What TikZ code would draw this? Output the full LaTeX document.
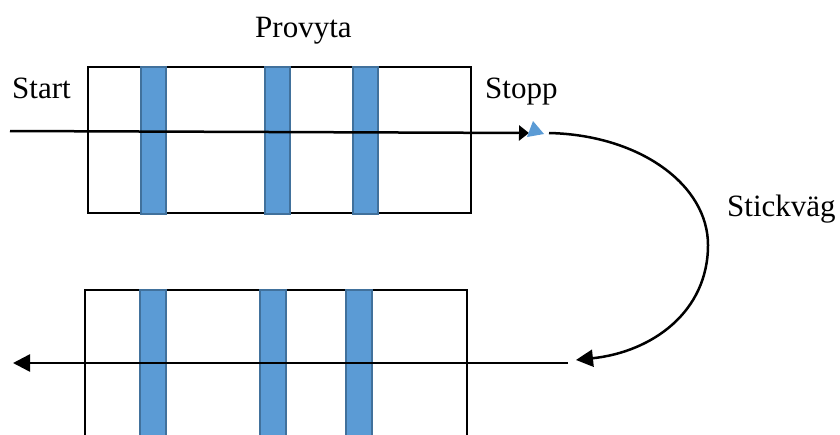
\documentclass[tikz,border=0pt]{standalone}
\usepackage{fontspec}
\setmainfont{Liberation Serif}
\usetikzlibrary{arrows.meta}
\definecolor{stripefill}{HTML}{5B9BD5}
\definecolor{stripeedge}{HTML}{41719C}
\tikzset{
  lbl/.style={anchor=base west, inner sep=0pt, font=\fontsize{31}{36}\selectfont},
  plate/.style={draw=black, line width=2.7pt},
  stripe/.style={fill=stripefill, draw=stripeedge, line width=1.4pt},
  path/.style={draw=black, line width=2.5pt},
}
\begin{document}
\begin{tikzpicture}[x=1pt,y=-1pt]
\useasboundingbox (0,0) rectangle (840,434);
\clip (0,0) rectangle (840,434);
% plates
\draw[plate] (88,67) rectangle (471,213);
\draw[plate] (85,290) rectangle (467,460);
% stripes top
\draw[stripe] (141,67) rectangle (166,214);
\draw[stripe] (265,67) rectangle (290,214);
\draw[stripe] (353,67) rectangle (378,214);
% stripes bottom
\draw[stripe] (140,290) rectangle (166,460);
\draw[stripe] (260,290) rectangle (286,460);
\draw[stripe] (346,290) rectangle (372,460);
% labels
\node[lbl] (provyta) at (255,37) {Provyta};
\node[lbl] (start) at (12,98) {Start};
\node[lbl] (stopp) at (485,98) {Stopp};
\node[lbl] (stickvag) at (727,216) {Stickväg};
% coordinates
\coordinate (a0) at (10,131);
\coordinate (a1) at (529,133);
\coordinate (c0) at (549,133);
\coordinate (c1) at (576,360);
\coordinate (b0) at (568,363);
\coordinate (b1) at (13,363);
% top line
\draw[path, -{Triangle[length=10pt,width=15pt]}] (a0) -- (a1);
\fill[stripefill] (533,121) -- (527,137) -- (544,134) -- cycle;
% curve
\draw[path, -{Triangle[length=17pt,width=17pt]}] (c0) .. controls (640,135) and (708,185) .. (708,245) .. controls (708,312) and (652,352) .. (c1);
% bottom line
\draw[path, -{Triangle[length=17pt,width=17pt]}] (b0) -- (b1);
\end{tikzpicture}
\end{document}
